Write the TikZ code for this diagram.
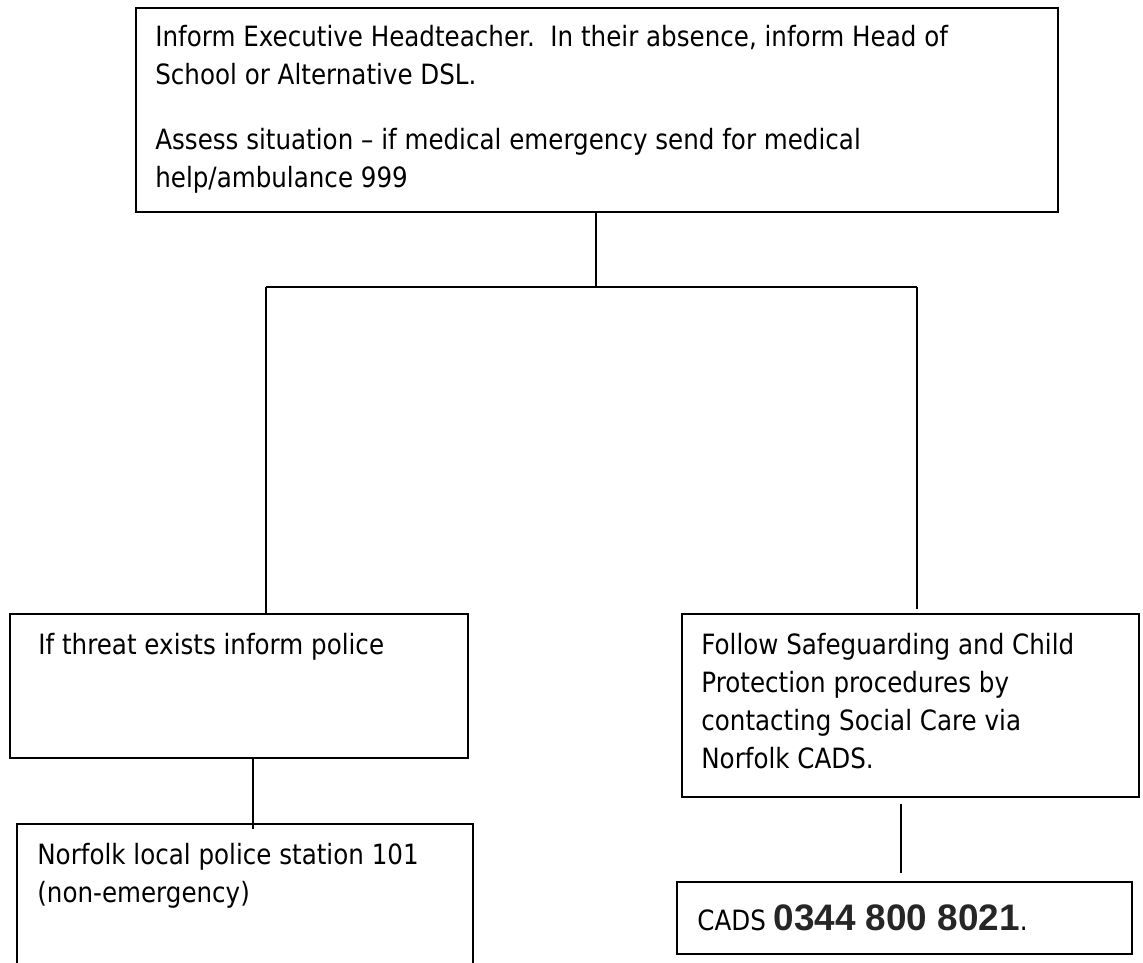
\documentclass[tikz,border=0pt]{standalone}
\usepackage{fontspec}
\setmainfont{DejaVu Sans}[FakeStretch=0.88]
\newfontfamily\phonefont{Liberation Sans}
\usetikzlibrary{positioning, calc}

\begin{document}
\begin{tikzpicture}[x=0.02cm, y=-0.02cm,
    stepbox/.style={draw, line width=1pt, rectangle, inner sep=0pt, anchor=north west},
    boxtext/.style={inner sep=0pt, align=left, font=\fontsize{15.9}{21.6}\selectfont},
    link/.style={line width=1pt}]
  \clip (0,0) rectangle (1143,963);
  \fill[white] (0,0) rectangle (1143,963);

  % boxes
  \node[stepbox, minimum width=18.44cm, minimum height=4.08cm] (top) at (135,7) {};
  \node[stepbox, minimum width=9.16cm, minimum height=2.88cm] (threat) at (9,613) {};
  \node[stepbox, minimum width=9.12cm, minimum height=3.2cm] (police) at (16,823) {};
  \node[stepbox, minimum width=9.14cm, minimum height=3.66cm] (safe) at (681,613) {};
  \node[stepbox, minimum width=9.10cm, minimum height=1.44cm] (cads) at (676,881) {};

  % texts
  \node[boxtext, below right=0.36cm and 0.4cm of top.north west] (toplabel)
    {Inform Executive Headteacher.\ \ In their absence, inform Head of\\
     School or Alternative DSL.\\[15.4pt]
     Assess situation -- if medical emergency send for medical\\
     help/ambulance 999};
  \node[boxtext, below right=0.4cm and 0.58cm of threat.north west] (threatlabel)
    {If threat exists inform police};
  \node[boxtext, below right=0.4cm and 0.42cm of police.north west] (policelabel)
    {Norfolk local police station 101\\(non-emergency)};
  \node[boxtext, below right=0.4cm and 0.4cm of safe.north west] (safelabel)
    {Follow Safeguarding and Child\\Protection procedures by\\
     contacting Social Care via\\Norfolk CADS.};
  \node[boxtext, right=0.42cm of cads.west] (cadslabel)
    {CADS {\phonefont\bfseries\color{black!85}\fontsize{21}{21}\selectfont 0344 800 8021}.};

  % connectors
  \coordinate (split) at (596,287);
  \coordinate (leftend) at (266,287);
  \coordinate (rightend) at (917,287);
  \draw[link] (split |- top.south) -- (split);
  \draw[link] (leftend) -- (rightend);
  \draw[link] (leftend) -- (leftend |- threat.north);
  \draw[link] (rightend) -- ($(rightend |- safe.north)+(0,-4)$);
  \draw[link] (threat.south -| 253,0) -- ($(police.north -| 253,0)+(0,6)$);
  \draw[link] ($(safe.south -| 901,0)+(0,6)$) -- ($(cads.north -| 901,0)+(0,-8)$);
\end{tikzpicture}
\end{document}
